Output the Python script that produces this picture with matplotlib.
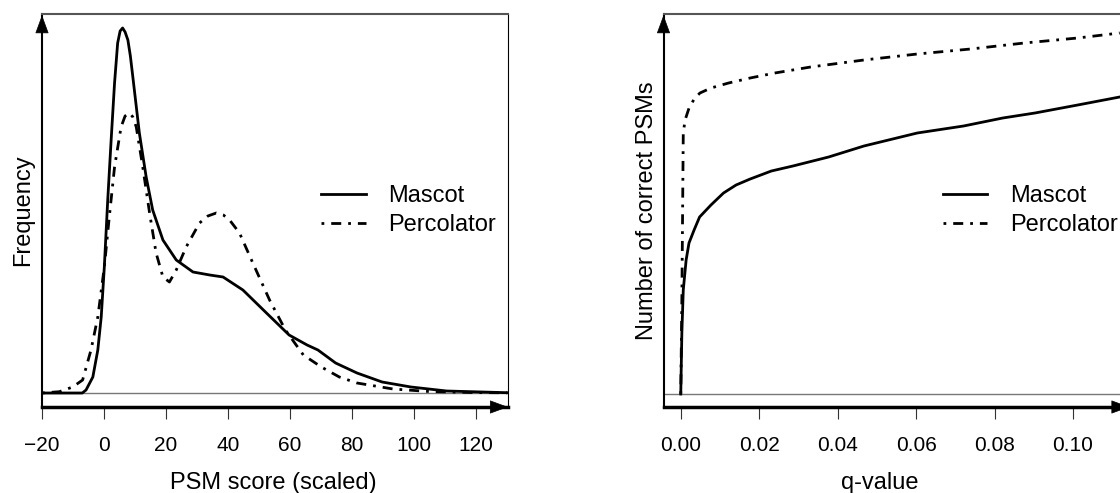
import matplotlib
matplotlib.use("Agg")
import matplotlib.pyplot as plt
import numpy as np

plt.rcParams['font.family'] = ['Liberation Sans', 'DejaVu Sans']

# left panel: score densities (arbitrary units)
mascot_score = [-20, -7.0, -5.8, -3.6, -2.0, -0.9, 0.1, 1.2, 2.3, 3.4, 4.4, 5.2,
                6.0, 6.8, 7.7, 8.5, 9.3, 11.4, 13.6, 15.7, 19.0, 23.3, 28.7,
                34.1, 38.4, 44.8, 52.4, 59.7, 65.5, 69.0, 74.7, 81.6, 89.7,
                99.0, 110.5, 130.0]
mascot_dens = [0, 0, 3, 16, 43, 76, 126, 193, 253, 310, 350, 362,
               365, 361, 353, 337, 316, 260, 216, 183, 153, 133, 121,
               118, 116, 103, 80, 58, 48, 43, 30, 20, 11,
               6, 2, 0.3]

perc_score = [-20, -14.4, -10.1, -6.9, -4.2, -2.0, 0.1, 1.7, 3.4, 5.5, 6.8, 8.2,
              9.3, 10.4, 12.5, 14.7, 16.8, 19.0, 21.1, 23.3, 26.5, 30.8, 33.5,
              36.2, 38.5, 40.5, 43.7, 48.0, 53.4, 58.5, 64.3, 70.1, 75.9,
              81.6, 93.2, 104.8, 118.6, 130.0]
perc_dens = [0, 1.3, 6, 13, 43, 76, 126, 176, 226, 266, 277, 280,
             276, 266, 226, 180, 140, 116, 111, 123, 146, 170, 177,
             180, 178, 173, 160, 130, 93, 63, 38, 26, 16,
             10, 4, 1.5, 0.5, 0.2]

# right panel: correct PSMs vs q-value (arbitrary units)
mascot_q = [0, 0.00028, 0.00064, 0.00137, 0.0021, 0.0034, 0.0048, 0.0077, 0.0109,
            0.0141, 0.0177, 0.0231, 0.0286, 0.0377, 0.0467, 0.0603, 0.0721,
            0.0821, 0.0903, 0.1012, 0.1119]
mascot_n = [0, 61, 104, 134, 151, 164, 177, 189, 201,
            209, 215, 223, 228, 237, 248, 261, 268,
            276, 281, 289, 297]

perc_q = [0, 0.00028, 0.00046, 0.00064, 0.0011, 0.0022, 0.0036, 0.0049, 0.0077,
          0.0122, 0.0177, 0.0240, 0.0331, 0.0467, 0.0603, 0.0739, 0.0876,
          0.1012, 0.1119]
perc_n = [0, 94, 177, 261, 274, 287, 296, 301, 306,
          311, 316, 321, 327, 334, 340, 345, 351,
          356, 361]

score_ticks = [-20, 0, 20, 40, 60, 80, 100, 120]
q_ticks = [0.00, 0.02, 0.04, 0.06, 0.08, 0.10]

dotdash = (0, (1, 2.5, 3.6, 2.5))

W, H = 1120, 493
fig = plt.figure(figsize=(W / 100, H / 100), dpi=100)
ax1 = fig.add_axes([42 / W, (H - 407) / H, 466 / W, 393 / H])
ax2 = fig.add_axes([663.5 / W, (H - 407) / H, 466 / W, 393 / H])


def style_axes(ax):
    ax.spines['left'].set_linewidth(1.5)
    ax.spines['left'].set_color('black')
    ax.spines['bottom'].set_linewidth(2.5)
    ax.spines['bottom'].set_color('black')
    ax.spines['top'].set_linewidth(1.5)
    ax.spines['top'].set_color('#555555')
    ax.spines['right'].set_linewidth(0.8)
    ax.set_yticks([])
    ax.tick_params(axis='x', direction='out', length=8.6, width=0.8,
                   color='#333333', labelsize=15, pad=12)
    ax.axhline(0, color='#777777', lw=1, zorder=1)
    # arrow heads on the two axes
    ax.annotate('', xy=(1, 0), xytext=(0.9, 0), xycoords='axes fraction',
                arrowprops=dict(arrowstyle='-|>,head_length=0.6,head_width=0.22',
                                color='black', lw=0.5, mutation_scale=20,
                                shrinkA=0, shrinkB=0),
                annotation_clip=False)
    ax.annotate('', xy=(0, 0.997), xytext=(0, 0.9), xycoords='axes fraction',
                arrowprops=dict(arrowstyle='-|>,head_length=0.6,head_width=0.22',
                                color='black', lw=0.5, mutation_scale=20,
                                shrinkA=0, shrinkB=0),
                annotation_clip=False)
    ax.legend(loc='center left', bbox_to_anchor=(0.599, 0.5), frameon=False,
              fontsize=17, handlelength=1.9, handletextpad=0.95,
              labelspacing=0.3, borderpad=0, borderaxespad=0)


# left: densities
ax1.plot(mascot_score, np.array(mascot_dens) * 1e-4, color='black', lw=2,
         label='Mascot')
ax1.plot(perc_score, np.array(perc_dens) * 1e-4, color='black', lw=2,
         linestyle=dotdash, label='Percolator')
ax1.set_xlim(-20, 130.3)
ax1.set_ylim(-0.0014, 0.0379)
ax1.set_xticks(score_ticks)
ax1.set_xlabel('PSM score (scaled)', fontsize=17)
ax1.set_ylabel('Frequency', fontsize=17)
style_axes(ax1)
ax1.xaxis.set_label_coords(0.497, -0.165)
ax1.yaxis.set_label_coords(-0.017, 0.5)

# right: q-value curves
ax2.plot(mascot_q, np.array(mascot_n) * 10, color='black', lw=2, label='Mascot')
ax2.plot(perc_q, np.array(perc_n) * 10, color='black', lw=2,
         linestyle=dotdash, label='Percolator')
ax2.set_xlim(-0.0044, 0.1144)
ax2.set_ylim(-130, 3800)
ax2.set_xticks(q_ticks)
ax2.set_xticklabels(['%.2f' % q for q in q_ticks])
ax2.set_xlabel('q-value', fontsize=17)
ax2.set_ylabel('Number of correct PSMs', fontsize=17)
style_axes(ax2)
ax2.xaxis.set_label_coords((880 - 663.5) / 466, -0.165)
ax2.yaxis.set_label_coords(-0.012, 0.5)

fig.savefig('out.png', dpi=100)
